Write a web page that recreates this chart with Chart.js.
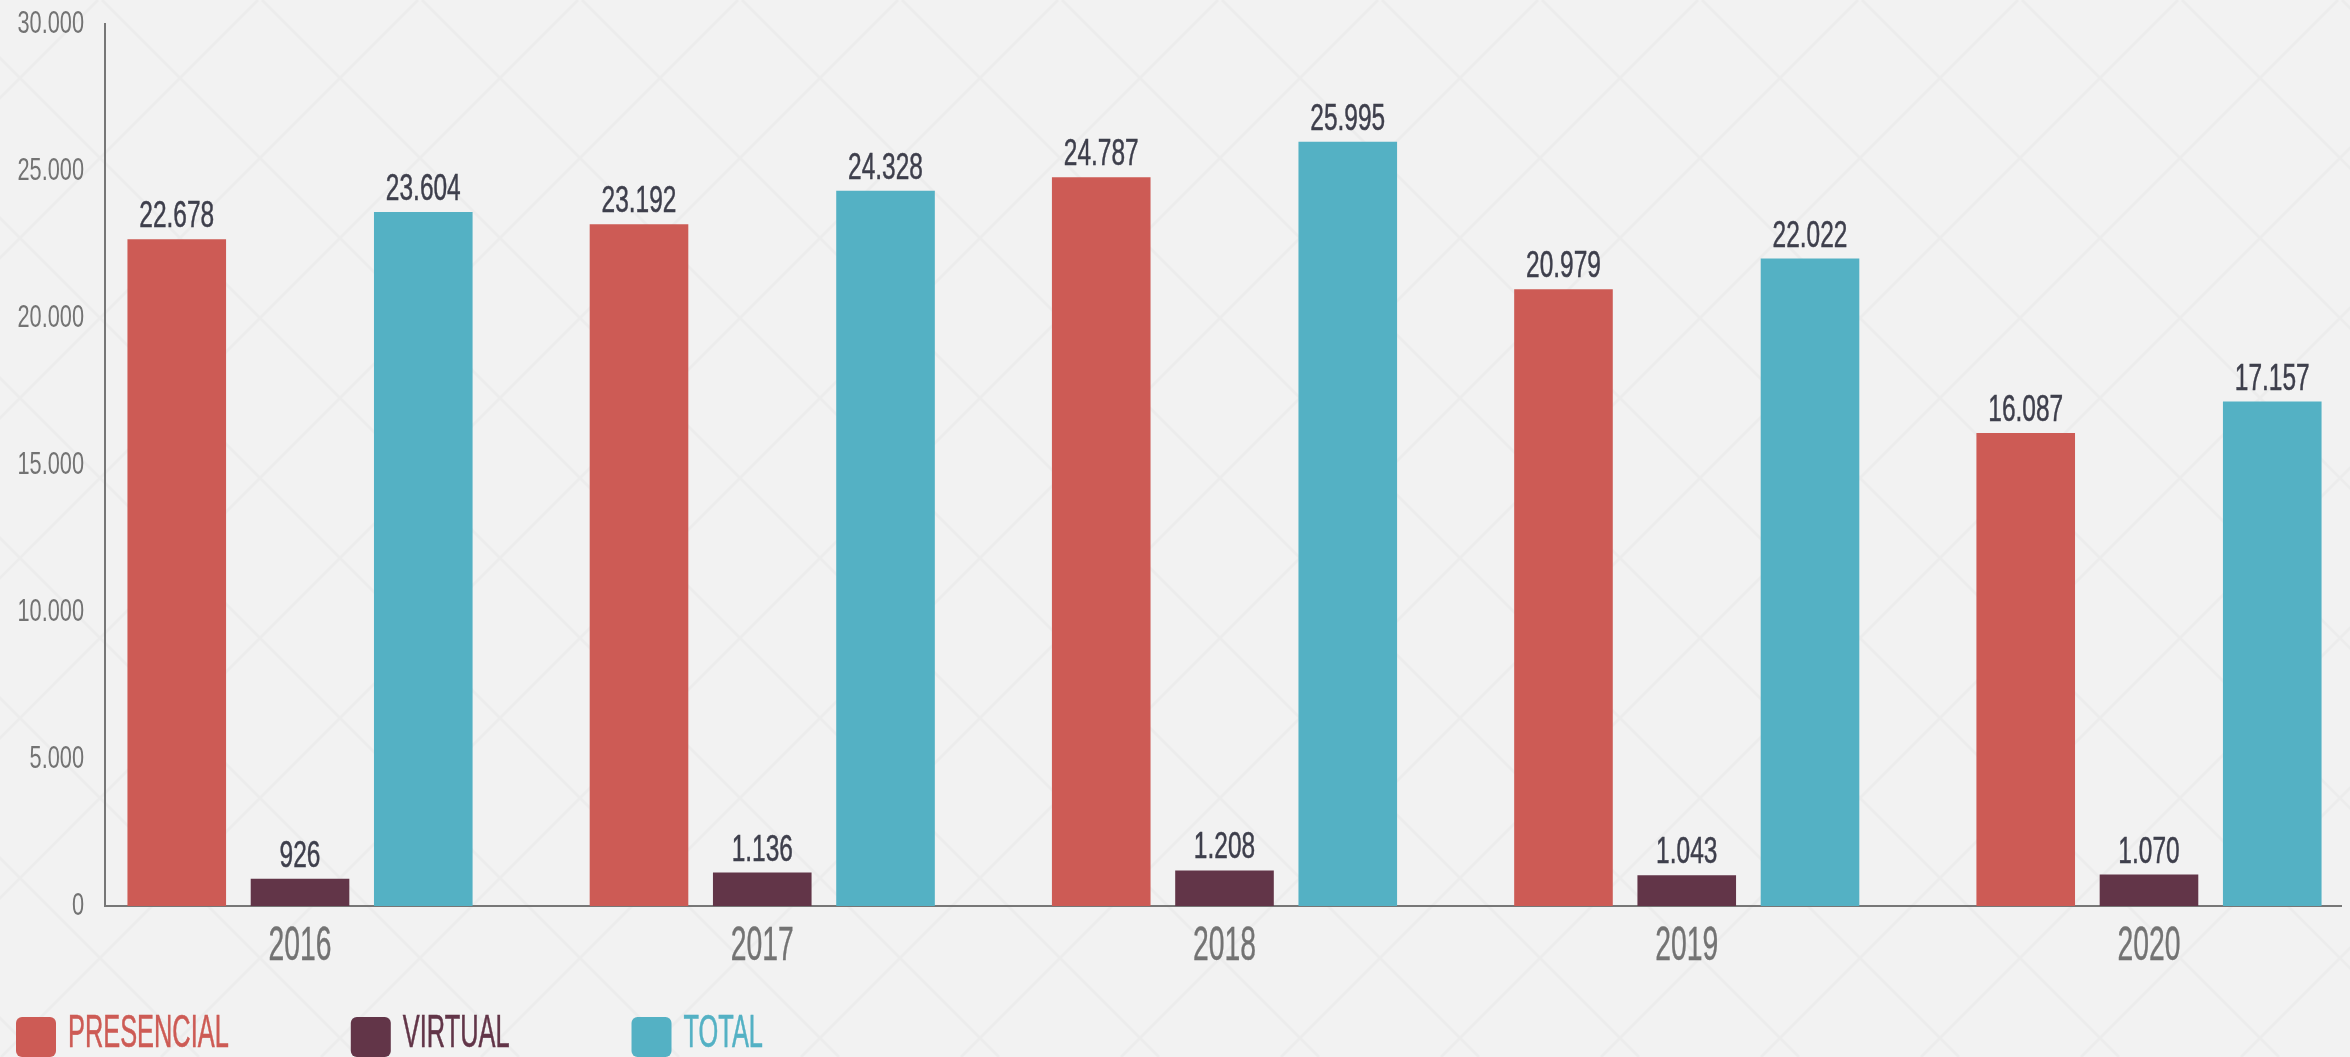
<!DOCTYPE html>
<html>
<head>
<meta charset="utf-8">
<script src="https://cdn.jsdelivr.net/npm/chart.js@4"></script>
<style>
  html, body { margin: 0; padding: 0; background: #f2f2f2; }
  #wrap { width: 2350px; height: 1057px; position: relative; }
</style>
</head>
<body>
<div id="wrap"><canvas id="chart"></canvas></div>
<script>
const years = ["2016", "2017", "2018", "2019", "2020"];
const presencial = [22678, 23192, 24787, 20979, 16087];
const virtual = [926, 1136, 1208, 1043, 1070];
const total = [23604, 24328, 25995, 22022, 17157];
const seriesNames = ["PRESENCIAL", "VIRTUAL", "TOTAL"];
const seriesColors = ["#cd5b55", "#623548", "#54b1c4"];

const FONT = "'Liberation Sans', Arial, sans-serif";

// thousands with a dot, like the original
function fmt(v) {
    return String(v).replace(/\B(?=(\d{3})+(?!\d))/g, ".");
}

// the source font is very condensed, so squeeze the text horizontally
// (optional thin stroke so squeezed stems don't get too thin)
function squash(ctx, text, x, y, sx, align, weight) {
    ctx.save();
    ctx.translate(x, y);
    ctx.scale(sx, 1);
    ctx.textAlign = align;
    ctx.textBaseline = "alphabetic";
    ctx.fillText(text, 0, 0);
    if (weight) {
        ctx.strokeStyle = ctx.fillStyle;
        ctx.lineWidth = weight;
        ctx.strokeText(text, 0, 0);
    }
    ctx.restore();
}

const backdrop = {
    id: "backdrop",
    beforeDraw(chart) {
        const ctx = chart.ctx;
        const w = chart.width, h = chart.height;
        ctx.save();
        ctx.fillStyle = "#f2f2f2";
        ctx.fillRect(0, 0, w, h);
        ctx.strokeStyle = "rgba(0,0,0,0.022)";
        ctx.lineWidth = 3;
        ctx.beginPath();
        for (let c = 98 - 160 * 10; c < w + h + 160; c += 160) {
            ctx.moveTo(c, 0);
            ctx.lineTo(c - h, h);
        }
        for (let c = 102 - 160 * 10; c < w + 160; c += 160) {
            ctx.moveTo(c, 0);
            ctx.lineTo(c + h, h);
        }
        ctx.stroke();
        ctx.restore();
    }
};

const labels = {
    id: "labels",
    afterDraw(chart) {
        const ctx = chart.ctx;
        const xs = chart.scales.x, ys = chart.scales.y;

        // y ticks
        ctx.fillStyle = "#737373";
        ctx.font = "32px " + FONT;
        ys.ticks.forEach(t => {
            squash(ctx, fmt(t.value), 84, ys.getPixelForValue(t.value) + 9, 0.68, "right", 0);
        });

        // x ticks
        ctx.font = "48px " + FONT;
        years.forEach((y, i) => {
            squash(ctx, y, xs.getPixelForValue(i), 960, 0.59, "center", 0.4);
        });

        // values over bars
        ctx.fillStyle = "#3e3f4c";
        ctx.font = "36px " + FONT;
        chart.data.datasets.forEach((ds, di) => {
            chart.getDatasetMeta(di).data.forEach((bar, i) => {
                squash(ctx, fmt(ds.data[i].y), bar.x, bar.y - 12, 0.68, "center", 0.5);
            });
        });

        // legend
        ctx.font = "47px " + FONT;
        let x = 16;
        seriesNames.forEach((name, i) => {
            ctx.fillStyle = seriesColors[i];
            ctx.beginPath();
            ctx.roundRect(x, 1017, 40, 40, 6);
            ctx.fill();
            squash(ctx, name, x + 52, 1047, 0.54, "left", 0.6);
            x += 52 + ctx.measureText(name).width * 0.54 + 122;
        });
    }
};

const toPoints = arr => arr.map((v, i) => ({ x: i, y: v }));

new Chart(document.getElementById("chart"), {
    type: "bar",
    data: {
        datasets: [
            { label: seriesNames[0], data: toPoints(presencial), backgroundColor: seriesColors[0] },
            { label: seriesNames[1], data: toPoints(virtual), backgroundColor: seriesColors[1] },
            { label: seriesNames[2], data: toPoints(total), backgroundColor: seriesColors[2] }
        ]
    },
    options: {
        responsive: true,
        maintainAspectRatio: false,
        animation: false,
        layout: { padding: { top: 24, right: 9, left: 0, bottom: 0 } },
        datasets: { bar: { barPercentage: 0.8, categoryPercentage: 0.8 } },
        plugins: {
            legend: { display: false },
            tooltip: { enabled: false }
        },
        scales: {
            x: {
                type: "linear",
                offset: false,
                min: -0.4219,
                max: 4.4154,
                grid: { display: false },
                border: { display: true, color: "#777777", width: 2 },
                ticks: { display: false },
                afterBuildTicks: s => { s.ticks = years.map((_, i) => ({ value: i })); },
                afterFit: s => { s.height = 151; }
            },
            y: {
                min: 0,
                max: 30000,
                grid: { display: false },
                border: { display: true, color: "#777777", width: 2 },
                ticks: { display: false, stepSize: 5000 },
                afterFit: s => { s.width = 105; }
            }
        }
    },
    plugins: [backdrop, labels]
});
</script>
</body>
</html>
